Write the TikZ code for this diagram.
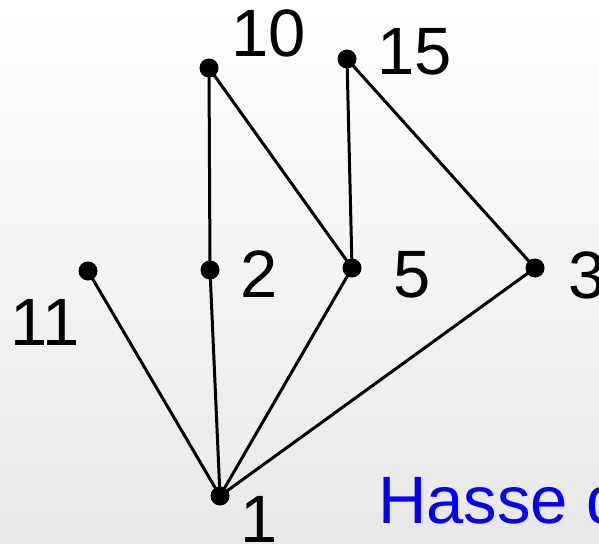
\documentclass[tikz,border=0pt]{standalone}
\usepackage{fontspec}
\setmainfont{Liberation Sans}
\begin{document}
\begin{tikzpicture}[x=1pt,y=-1pt,
  dot/.style={circle,fill=black,inner sep=0pt,minimum size=19pt},
  lbl/.style={inner sep=0pt,font=\fontsize{67}{80}\selectfont},
  edge/.style={line width=3pt}]
\useasboundingbox (0,0) rectangle (599,543);
\shade[top color=white,bottom color=black!9] (0,0) rectangle (599,543);
\begin{scope}
\clip (0,0) rectangle (599,543);
\node[dot] (n10) at (209,68) {};
\node[dot] (n15) at (347,59) {};
\node[dot] (n11) at (88,271) {};
\node[dot] (n2) at (210,270) {};
\node[dot] (n5) at (352,268) {};
\node[dot] (n3) at (535,268) {};
\node[dot] (n1) at (220,496) {};
\draw[edge] (n10.center) -- (n2.center);
\draw[edge] (n10.center) -- (n5.center);
\draw[edge] (n15.center) -- (n5.center);
\draw[edge] (n15.center) -- (n3.center);
\draw[edge] (n11.center) -- (n1.center);
\draw[edge] (n2.center) -- (n1.center);
\draw[edge] (n5.center) -- (n1.center);
\draw[edge] (n3.center) -- (n1.center);
\node[lbl] (l10) at (269,33) {10};
\node[lbl] (l15) at (415,52) {15};
\node[lbl] (l2) at (259,274) {2};
\node[lbl] (l5) at (412,275) {5};
\node[lbl] (l3) at (587,275) {3};
\node[lbl] (l11) at (45,322) {11};
\node[lbl] (l1) at (259,519) {1};
\node[lbl,anchor=base west,text={rgb,255:red,0;green,0;blue,255}] (title) at (378,523) {Hasse diagram};
\end{scope}
\end{tikzpicture}
\end{document}
